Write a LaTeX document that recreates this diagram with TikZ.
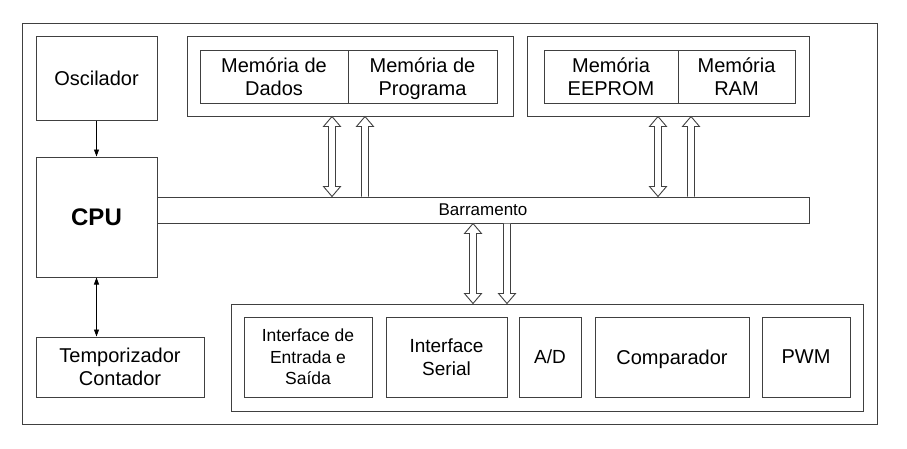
\documentclass[tikz,border=0pt]{standalone}
\usepackage{fontspec}
\setmainfont{Liberation Sans}
\usetikzlibrary{arrows.meta, positioning, calc}
\definecolor{mculine}{HTML}{404040}

% hollow bus arrows between two named points (top, bottom)
\newcommand{\busdouble}[2]{%
  \draw[hollow] let \p1=(#1), \p2=(#2) in
    (\x1,\y1) -- (\x1+8.5pt,\y1-10pt) -- (\x1+3.5pt,\y1-10pt)
    -- (\x2+3.5pt,\y2+10pt) -- (\x2+8.5pt,\y2+10pt) -- (\x2,\y2)
    -- (\x2-8.5pt,\y2+10pt) -- (\x2-3.5pt,\y2+10pt)
    -- (\x1-3.5pt,\y1-10pt) -- (\x1-8.5pt,\y1-10pt) -- cycle;}
\newcommand{\busup}[2]{%
  \draw[hollow] let \p1=(#1), \p2=(#2) in
    (\x2-3.5pt,\y2) -- (\x1-3.5pt,\y1-10pt) -- (\x1-8.5pt,\y1-10pt)
    -- (\x1,\y1) -- (\x1+8.5pt,\y1-10pt) -- (\x1+3.5pt,\y1-10pt)
    -- (\x2+3.5pt,\y2);}
\newcommand{\busdown}[2]{%
  \draw[hollow] let \p1=(#1), \p2=(#2) in
    (\x1-3.5pt,\y1) -- (\x2-3.5pt,\y2+10pt) -- (\x2-8.5pt,\y2+10pt)
    -- (\x2,\y2) -- (\x2+8.5pt,\y2+10pt) -- (\x2+3.5pt,\y2+10pt)
    -- (\x1+3.5pt,\y1);}

\begin{document}
\begin{tikzpicture}[
    x=1pt, y=-1pt,
    box/.style={
        rectangle,
        draw=mculine,
        line width=1pt,
        fill=white,
        inner sep=0pt,
        text depth=0pt,
        align=center,
        font=\fontsize{20pt}{23pt}\selectfont
    },
    group/.style={
        rectangle,
        draw=mculine,
        line width=1pt,
        inner sep=0pt
    },
    hollow/.style={
        draw=mculine,
        line width=0.9pt,
        fill=white
    },
    thin/.style={
        line width=0.8pt,
        {Triangle[length=7pt,width=5pt]}-{Triangle[length=7pt,width=5pt]}
    }
]
\useasboundingbox (0,0) rectangle (907,448);

% Frame
\node[group, minimum width=855pt, minimum height=401pt] (frame) at (449.5,223.5) {};

% Left column
\node[box, minimum width=121pt, minimum height=84pt] (osc) at (96.5,78) {Oscilador};
\node[box, minimum width=121pt, minimum height=120pt,
      font=\fontsize{24pt}{28pt}\selectfont\bfseries] (cpu) at (96.5,217) {CPU};
\node[box, minimum width=168pt, minimum height=60pt] (timer) at (120,367) {Temporizador\\Contador};

% Memory groups
\node[group, minimum width=326pt, minimum height=80pt] (memA) at (350,76) {};
\node[box, minimum width=148pt, minimum height=53pt] (dados) at (274,76.5) {Memória de\\Dados};
\node[box, minimum width=149pt, minimum height=53pt] (prog) at (422.5,76.5) {Memória de\\Programa};

\node[group, minimum width=282pt, minimum height=80pt] (memB) at (668,76) {};
\node[box, minimum width=134pt, minimum height=53pt] (eeprom) at (611,76.5) {Memória\\EEPROM};
\node[box, minimum width=117pt, minimum height=53pt] (ram) at (736.5,76.5) {Memória\\RAM};

% Bus
\node[box, minimum width=652pt, minimum height=26pt,
      font=\fontsize{17pt}{20pt}\selectfont] (bus) at (483,210) {Barramento};

% Peripherals
\node[group, minimum width=632pt, minimum height=107pt] (periph) at (547,357.5) {};
\node[box, minimum width=128pt, minimum height=80pt,
      font=\fontsize{17.5pt}{21.5pt}\selectfont] (io) at (308,357) {Interface de\\Entrada e\\Saída};
\node[box, minimum width=121pt, minimum height=80pt,
      font=\fontsize{19pt}{23pt}\selectfont] (serial) at (446.5,357) {Interface\\Serial};
\node[box, minimum width=62pt, minimum height=80pt,
      font=\fontsize{19pt}{23pt}\selectfont] (ad) at (550,357) {A/D};
\node[box, minimum width=154pt, minimum height=80pt] (comp) at (672,357) {Comparador};
\node[box, minimum width=88pt, minimum height=80pt] (pwm) at (806,357) {PWM};

% Arrows
\draw[line width=0.8pt, -{Triangle[length=7pt,width=5pt]}] (osc) -- (cpu);
\draw[thin] (cpu.south) -- (timer.north -| cpu.south);

% Bus arrows
\coordinate (xa) at (332,0);
\coordinate (xb) at (365,0);
\coordinate (xc) at (658,0);
\coordinate (xd) at (691,0);
\coordinate (xe) at (473,0);
\coordinate (xf) at (507,0);
\busdouble{memA.south -| xa}{bus.north -| xa}
\busup{memA.south -| xb}{bus.north -| xb}
\busdouble{memB.south -| xc}{bus.north -| xc}
\busup{memB.south -| xd}{bus.north -| xd}
\busdouble{bus.south -| xe}{periph.north -| xe}
\busdown{bus.south -| xf}{periph.north -| xf}

\end{tikzpicture}
\end{document}
